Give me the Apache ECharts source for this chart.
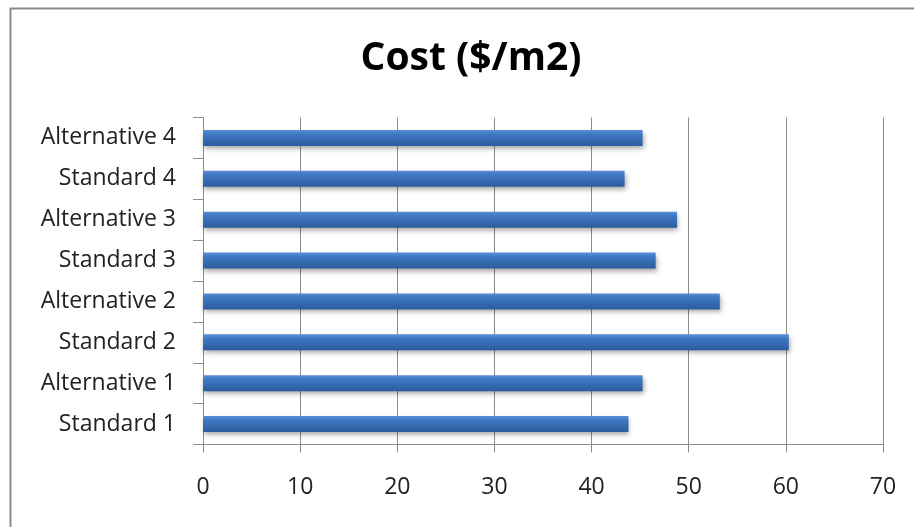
<!DOCTYPE html>
<html>
<head>
<meta charset="utf-8">
<script src="https://cdn.jsdelivr.net/npm/echarts@6/dist/echarts.min.js"></script>
<style>html,body{margin:0;padding:0;background:#fff}#c{width:914px;height:527px}</style>
</head>
<body>
<div id="c"></div>
<script>
const categories = ['Standard 1','Alternative 1','Standard 2','Alternative 2','Standard 3','Alternative 3','Standard 4','Alternative 4'];
const costValues = [43.8, 45.25, 60.3, 53.2, 46.6, 48.8, 43.4, 45.25];
const xTicks = {min: 0, max: 70, interval: 10};
const titleText = 'Cost ($/m2)';

const chart = echarts.init(document.getElementById('c'), null, {renderer: 'canvas'});
chart.setOption({
  animation: false,
  backgroundColor: '#fff',
  graphic: [{
    type: 'rect', left: 8, top: 6, silent: true,
    shape: {width: 1000, height: 1000},
    style: {fill: 'none', stroke: '#8a8a8a', lineWidth: 2}
  }],
  title: {
    text: titleText, left: 466, top: 34, textAlign: 'center',
    textStyle: {fontFamily: 'Open Sans', fontWeight: 'bold', fontSize: 39, color: '#000'}
  },
  grid: {left: 203, right: 31, top: 117.5, bottom: 82.5, containLabel: false},
  xAxis: {
    type: 'value', min: xTicks.min, max: xTicks.max, interval: xTicks.interval,
    axisLine: {show: true, lineStyle: {color: '#8c8c8c', width: 1}},
    axisTick: {show: true, length: 8, lineStyle: {color: '#8c8c8c'}},
    splitLine: {show: true, lineStyle: {color: '#8c8c8c', width: 1}},
    axisLabel: {margin: 31, fontFamily: 'Open Sans', fontSize: 23, color: '#222'}
  },
  yAxis: {
    type: 'category', data: categories,
    axisLine: {show: true, lineStyle: {color: '#8c8c8c', width: 1}},
    axisTick: {show: true, length: 10, lineStyle: {color: '#8c8c8c'}},
    axisLabel: {margin: 27, fontFamily: 'Open Sans', fontSize: 23, color: '#222'}
  },
  series: [{
    type: 'bar', data: costValues, barWidth: 16,
    itemStyle: {
      color: new echarts.graphic.LinearGradient(0, 0, 0, 1, [
        {offset: 0, color: '#5b8fd6'},
        {offset: 0.25, color: '#3f78c4'},
        {offset: 1, color: '#2c5c9c'}
      ]),
      shadowColor: 'rgba(0,0,0,0.35)', shadowBlur: 5, shadowOffsetY: 3, shadowOffsetX: 1
    }
  }]
});
</script>
</body>
</html>
